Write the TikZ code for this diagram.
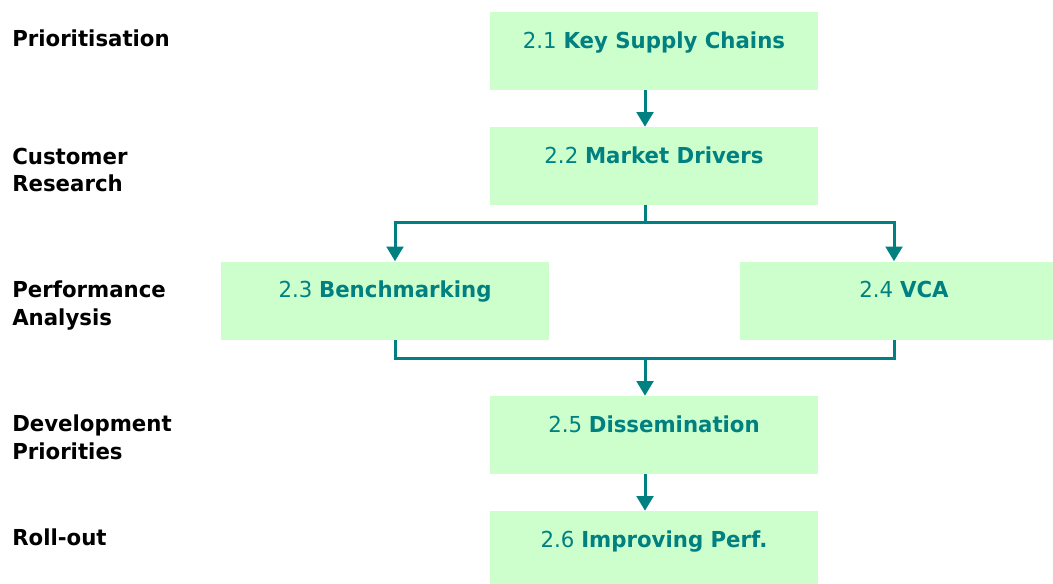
\documentclass[tikz,border=0pt]{standalone}
\usepackage{fontspec}
\setmainfont{DejaVu Sans}[FakeStretch=0.967]
\usetikzlibrary{arrows.meta,calc}
\definecolor{teal}{HTML}{008080}
\definecolor{boxfill}{HTML}{CCFFCC}
\begin{document}
\begin{tikzpicture}[x=0.75pt,y=-0.75pt,
  box/.style={rectangle,fill=boxfill,draw=none,inner xsep=0pt,inner ysep=0pt,
    minimum width=246pt,text height=27pt,text depth=31.5pt,text=teal,
    font=\fontsize{16.5}{20}\selectfont},
  lbl/.style={anchor=base west,inner sep=0pt,font=\fontsize{16.5}{20}\selectfont\bfseries},
  conn/.style={draw=teal,line width=2.25pt},
  arr/.style={conn,-{Triangle[length=11pt,width=12.5pt]}}]
\useasboundingbox (0,0) rectangle (1053,583);
\clip (0,0) rectangle (1053,583);
\node[box] (b1) at (654,51) {2.1 \textbf{Key Supply Chains}};
\node[box] (b2) at (654,166) {2.2 \textbf{Market Drivers}};
\node[box] (b3) at (385,300.5) {2.3 \textbf{Benchmarking}};
\node[box] (b4) at (904,300.5) {2.4 \textbf{VCA}};
\node[box] (b5) at (654,435) {2.5 \textbf{Dissemination}};
\node[box] (b6) at (654,550) {2.6 \textbf{Improving Perf.}};

\node[lbl] (l1) at (12,46) {Prioritisation};
\node[lbl] (l2a) at (12,164) {Customer};
\node[lbl] (l2b) at (12,191) {Research};
\node[lbl] (l3a) at (12,297) {Performance};
\node[lbl] (l3b) at (12,325) {Analysis};
\node[lbl] (l4a) at (12,431) {Development};
\node[lbl] (l4b) at (12,459) {Priorities};
\node[lbl] (l5) at (12,545) {Roll-out};

\coordinate (split) at (645,222.5);
\coordinate (merge) at (645,358);
\draw[arr] (b1.south -| split) -- (b2.north -| split);
\draw[conn] (b2.south -| split) -- (split);
\draw[arr] (split) -| ([xshift=7.5pt]b3.north);
\draw[arr] (split) -| ([xshift=-7.5pt]b4.north);
\draw[conn] ([xshift=7.5pt]b3.south) |- (merge);
\draw[conn] ([xshift=-7.5pt]b4.south) |- (merge);
\draw[arr] (merge) -- (b5.north -| merge);
\draw[arr] (b5.south -| merge) -- (b6.north -| merge);
\end{tikzpicture}
\end{document}
